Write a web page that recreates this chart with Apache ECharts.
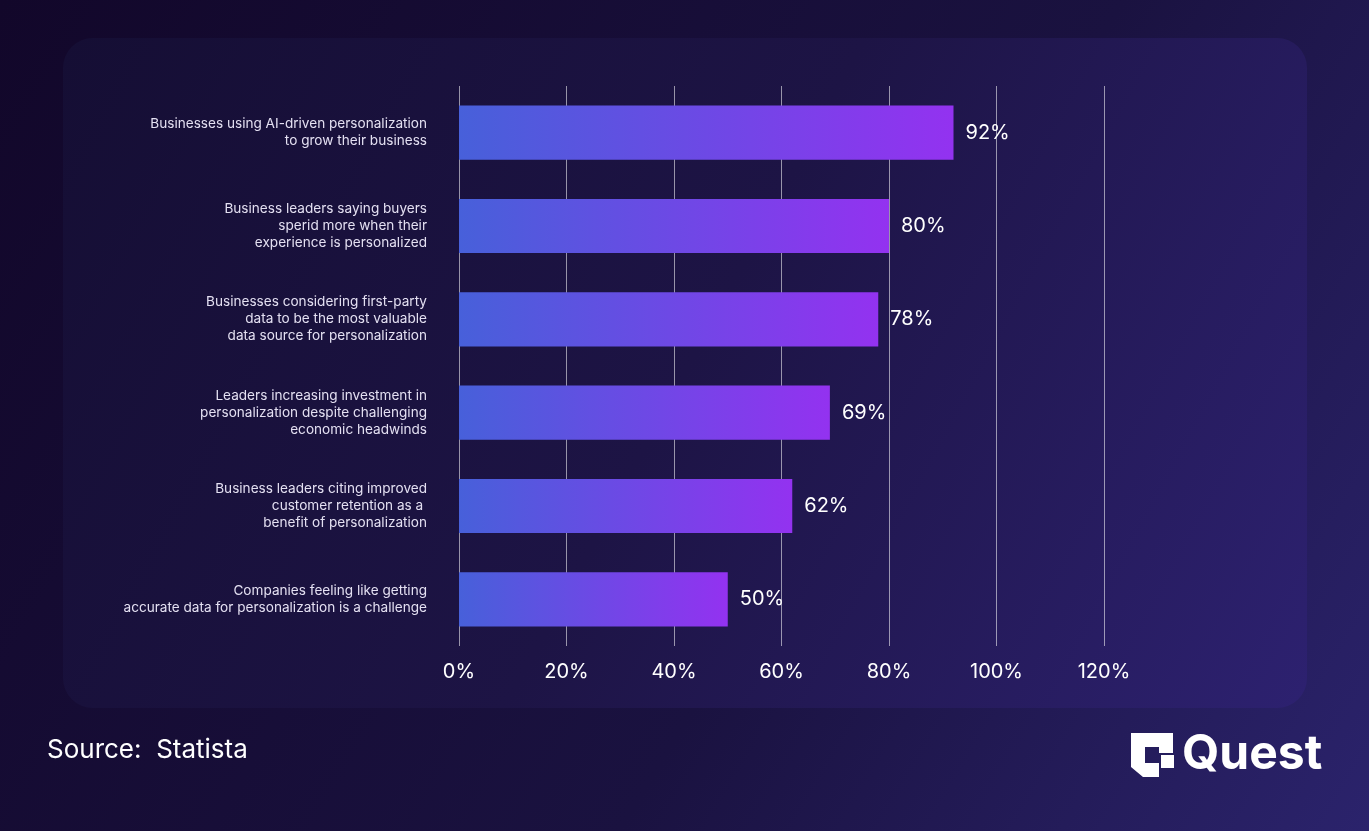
<!DOCTYPE html>
<html>
<head>
<meta charset="utf-8">
<title>AI personalization</title>
<script src="https://cdn.jsdelivr.net/npm/echarts@6/dist/echarts.min.js"></script>
<style>
  html, body { margin: 0; padding: 0; background: #140b2c; }
  #main { width: 1369px; height: 831px; }
</style>
</head>
<body>
<div id="main"></div>
<script>
// data
const categories = [
  'Businesses using AI-driven personalization\nto grow their business',
  'Business leaders saying buyers\nsperid more when their\nexperience is personalized',
  'Businesses considering first-party\ndata to be the most valuable\ndata source for personalization',
  'Leaders increasing investment in\npersonalization despite challenging\neconomic headwinds',
  'Business leaders citing improved\ncustomer retention as a \nbenefit of personalization',
  'Companies feeling like getting\naccurate data for personalization is a challenge'
];
const values = [92, 80, 78, 69, 62, 50];
const tickLabels = ['0%', '20%', '40%', '60%', '80%', '100%', '120%'];

const font = 'Inter, "Noto Sans", sans-serif';
const chart = echarts.init(document.getElementById('main'));

let option = {
  backgroundColor: new echarts.graphic.LinearGradient(0, 0, 1, 1, [
    { offset: 0, color: '#12072a' },
    { offset: 0.6, color: '#1a1240' },
    { offset: 1, color: '#2b236c' }
  ]),
  textStyle: { fontFamily: font },
  graphic: [
    {
      type: 'rect',
      z: -10,
      shape: { x: 63, y: 38, width: 1244, height: 670, r: 30 },
      style: {
        fill: new echarts.graphic.LinearGradient(0, 0, 1, 1, [
          { offset: 0, color: '#150e34' },
          { offset: 0.5, color: '#1d1445' },
          { offset: 1, color: '#2d2170' }
        ])
      }
    },
    {
      type: 'text',
      left: 47, top: 737,
      style: { text: 'Source:  Statista', fill: '#ffffff', font: '400 26px ' + font }
    },
    // Quest logo mark
    {
      type: 'group',
      left: 1131, top: 733,
      children: [
        {
          type: 'polygon',
          shape: { points: [[0, 0], [42, 0], [42, 20], [28, 20], [28, 14], [14, 14], [14, 30], [28, 30], [28, 44], [12, 44], [0, 34]] },
          style: { fill: '#ffffff' }
        },
        {
          type: 'rect',
          shape: { x: 30, y: 22, width: 13, height: 13 },
          style: { fill: '#ffffff' }
        }
      ]
    },
    {
      type: 'text',
      left: 1182, top: 731,
      style: { text: 'Quest', fill: '#ffffff', font: '700 48px ' + font }
    }
  ],
  grid: { left: 459, top: 86, width: 645, height: 560 },
  xAxis: {
    type: 'value',
    min: 0,
    max: 120,
    interval: 20,
    axisLine: { show: false },
    axisTick: { show: false },
    splitLine: { lineStyle: { color: 'rgba(255,255,255,0.55)', width: 1 } },
    axisLabel: {
      color: '#ffffff',
      fontSize: 20,
      margin: 16,
      formatter: (v) => tickLabels[v / 20]
    }
  },
  yAxis: {
    type: 'category',
    inverse: true,
    data: categories,
    axisLine: { show: false },
    axisTick: { show: false },
    axisLabel: {
      color: '#e4e0f2',
      fontSize: 13.6,
      lineHeight: 17,
      margin: 32,
      align: 'right'
    }
  },
  series: [
    {
      type: 'bar',
      data: values,
      barWidth: '58%',
      itemStyle: {
        color: new echarts.graphic.LinearGradient(0, 0, 1, 0, [
          { offset: 0, color: '#4760da' },
          { offset: 1, color: '#9332f0' }
        ])
      },
      label: {
        show: true,
        position: 'right',
        distance: 12,
        color: '#ffffff',
        fontSize: 20,
        formatter: '{c}%'
      }
    }
  ]
};

chart.setOption(option);
</script>
</body>
</html>
